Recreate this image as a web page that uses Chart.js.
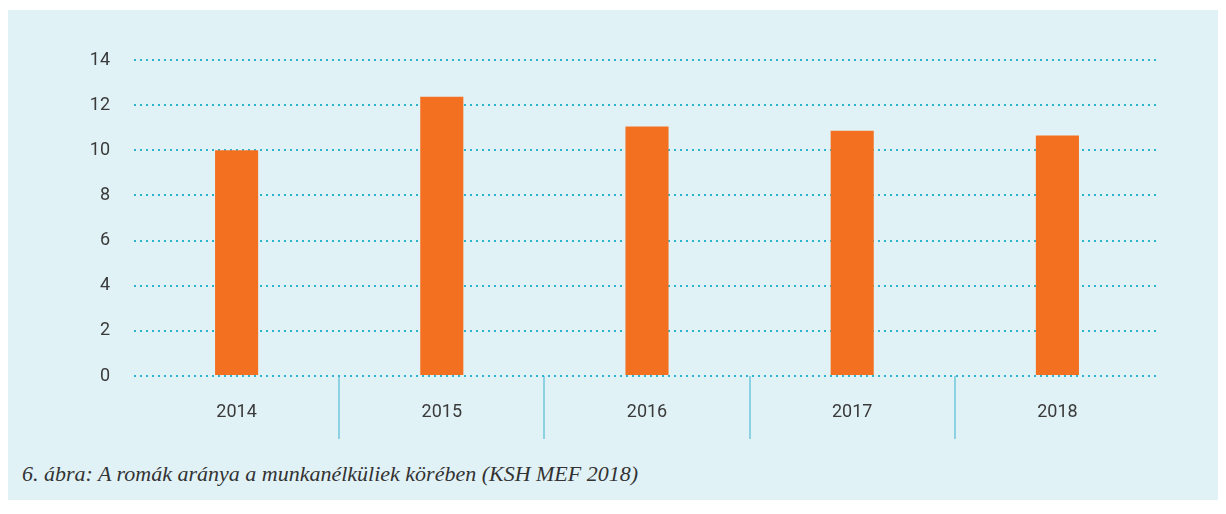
<!DOCTYPE html>
<html>
<head>
<meta charset="utf-8">
<script src="https://cdn.jsdelivr.net/npm/chart.js@4"></script>
<style>
  body { margin: 0; background: #ffffff; }
  #panel { position: absolute; left: 8px; top: 10px; width: 1210px; height: 490px; background: #e1f2f7; }
  #wrap { position: absolute; left: 0; top: 0; width: 1210px; height: 440px; }
  #caption { position: absolute; left: 14px; top: 451px; font-family: "Liberation Serif", serif; font-style: italic; font-size: 22px; color: #333; }
</style>
</head>
<body>
<div id="panel">
  <div id="wrap"><canvas id="myChart"></canvas></div>
  <div id="caption">6. ábra: A romák aránya a munkanélküliek körében (KSH MEF 2018)</div>
</div>
<script>
'use strict';

let years = ['2014', '2015', '2016', '2017', '2018'];
let shares = [10.0, 12.37, 11.05, 10.87, 10.65];
let yTicks = [0, 2, 4, 6, 8, 10, 12, 14];

let ctx = document.getElementById('myChart').getContext('2d');
let myChart = new Chart(ctx, {
  type: 'bar',
  data: {
    labels: years,
    datasets: [{
      data: shares,
      backgroundColor: '#f37021',
      barPercentage: 0.21,
      categoryPercentage: 1
    }]
  },
  options: {
    responsive: true,
    maintainAspectRatio: false,
    animation: false,
    layout: { padding: { top: 50, right: 58, left: 0, bottom: 0 } },
    plugins: { legend: { display: false }, tooltip: { enabled: false } },
    scales: {
      x: {
        afterFit: function (scale) { scale.height = 74; },
        border: { display: false },
        grid: {
          drawOnChartArea: false,
          drawTicks: true,
          tickLength: 63,
          lineWidth: 2,
          color: function (c) {
            // only the separators between the years
            return (c.index >= 1 && c.index <= years.length - 1) ? '#8dd2e2' : 'rgba(0,0,0,0)';
          }
        },
        ticks: {
          padding: -37,
          color: '#3a3a3a',
          font: { family: 'Roboto', size: 18 }
        }
      },
      y: {
        min: 0,
        max: 14,
        afterFit: function (scale) { scale.width = 126; },
        afterBuildTicks: function (scale) { scale.ticks = yTicks.map(v => ({ value: v })); },
        border: { display: false, dash: [2, 4] },
        grid: {
          drawTicks: false,
          lineWidth: 2,
          color: '#2bb3cf'
        },
        ticks: {
          padding: 24,
          color: '#3a3a3a',
          font: { family: 'Roboto', size: 18 }
        }
      }
    }
  }
});
</script>
</body>
</html>
